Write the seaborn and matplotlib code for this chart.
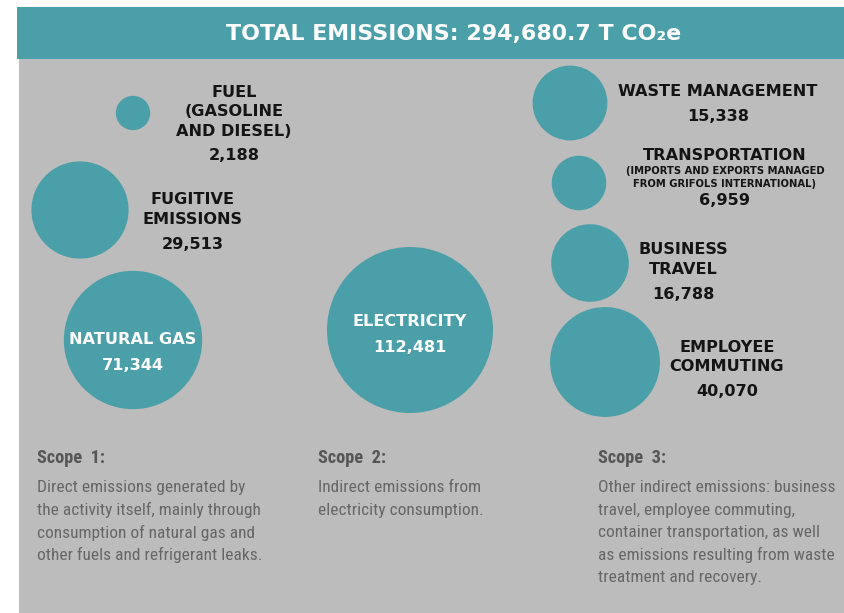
import matplotlib
matplotlib.use("Agg")
import matplotlib.pyplot as plt
from matplotlib import font_manager
from matplotlib.patches import Rectangle
import numpy as np
import pandas as pd
import seaborn as sns

# ---- data -------------------------------------------------------------
sources = ["FUEL\n(GASOLINE\nAND DIESEL)", "FUGITIVE\nEMISSIONS", "NATURAL GAS",
           "ELECTRICITY",
           "WASTE MANAGEMENT", "TRANSPORTATION", "BUSINESS\nTRAVEL",
           "EMPLOYEE\nCOMMUTING"]
emissions = [2188, 29513, 71344, 112481, 15338, 6959, 16788, 40070]
scopes = [1, 1, 1, 2, 3, 3, 3, 3]
total_emissions = 294680.7
transport_note = "(IMPORTS AND EXPORTS MANAGED\nFROM GRIFOLS INTERNATIONAL)"

scope_titles = ["Scope  1:", "Scope  2:", "Scope  3:"]
scope_texts = [
    "Direct emissions generated by\nthe activity itself, mainly through\n"
    "consumption of natural gas and\nother fuels and refrigerant leaks.",
    "Indirect emissions from\nelectricity consumption.",
    "Other indirect emissions: business\ntravel, employee commuting,\n"
    "container transportation, as well\nas emissions resulting from waste\n"
    "treatment and recovery.",
]

# ---- layout (canvas units = pixels, origin top-left) ------------------
W, H = 845, 613
bubble_x = [133, 80, 133, 410, 570, 579, 590, 605]
bubble_y = [113, 210, 340, 330, 103, 183, 263, 362]
# label anchor: (x, y of first line, line gap, gap to number, inside bubble?)
label_pos = [(234, 92.5, 19.5, 23.5, False), (193, 199.5, 20, 25, False),
             (133, 340, 20, 26, True), (410, 321, 20, 26, True),
             (718, 92, 20, 24.5, False), (725, 156, 20, 44.5, False),
             (683, 250, 19.5, 25, False), (727, 347, 19.5, 24.5, False)]
scope_x = [37, 318, 598]

TEAL = "#4A9FA9"
PANEL = "#BCBCBC"
INK = "#141414"
R_MAX_PX = 83          # radius of the largest bubble, pixels
SIZE_EXP = 0.4         # radius grows as value ** SIZE_EXP

sns.set_theme(style="white")

def pick(families):
    names = {f.name for f in font_manager.fontManager.ttflist}
    for fam in families:
        if fam in names:
            return fam
    return "DejaVu Sans"

BOLD_FONT = pick(["DejaVu Sans"])
NARROW_FONT = pick(["Liberation Sans Narrow", "DejaVu Sans Condensed",
                    "Roboto Condensed", "Liberation Sans"])

dpi = 100
fig = plt.figure(figsize=(W / dpi, H / dpi), dpi=dpi)
ax = fig.add_axes([0, 0, 1, 1])

# background panel and header band
ax.add_patch(Rectangle((19, 59), W - 19, H - 59, color=PANEL, lw=0, zorder=0))
ax.add_patch(Rectangle((17, 7), W - 17, 52, color=TEAL, lw=0, zorder=1))
ax.text(454, 34, f"TOTAL EMISSIONS: {total_emissions:,.1f} T CO\u2082e",
        color="white", fontsize=15.9, fontweight="bold", family=BOLD_FONT,
        ha="center", va="center", zorder=2)

# bubbles: radius derived from the emission value
values = np.array(emissions, dtype=float)
radius_px = R_MAX_PX * (values / values.max()) ** SIZE_EXP
px_to_pt = 72 / dpi
df = pd.DataFrame({"source": sources, "emissions": emissions, "scope": scopes,
                   "x": bubble_x, "y": bubble_y,
                   "area": (2 * radius_px * px_to_pt) ** 2})
sns.scatterplot(data=df, x="x", y="y", s=df["area"], color=TEAL,
                linewidth=0, alpha=1, ax=ax, legend=False, zorder=3)
ax.set_xlim(0, W)
ax.set_ylim(H, 0)
ax.axis("off")

for i, row in df.iterrows():
    lx, ly, gap, num_gap, inside = label_pos[i]
    colour = "white" if inside else INK
    lines = row["source"].split("\n")
    for j, line in enumerate(lines):
        ax.text(lx, ly + j * gap, line, color=colour, fontsize=11.6,
                fontweight="bold", family=BOLD_FONT, ha="center",
                va="center", zorder=4)
    last = ly + (len(lines) - 1) * gap
    if row["source"] == "TRANSPORTATION":
        ax.text(lx, ly + 21.5, transport_note, color=INK, fontsize=7.2,
                fontweight="bold", family=BOLD_FONT, ha="center",
                va="center", linespacing=1.3, zorder=4)
    ax.text(lx, last + num_gap, f"{row['emissions']:,}", color=colour,
            fontsize=11.6, fontweight="bold", family=BOLD_FONT,
            ha="center", va="center", zorder=4)

# scope descriptions
for sx, title, body in zip(scope_x, scope_titles, scope_texts):
    ax.text(sx, 458, title, color="#565656", fontsize=13.2, fontweight="bold",
            family=NARROW_FONT, ha="left", va="center")
    for j, line in enumerate(body.split("\n")):
        ax.text(sx, 487.5 + j * 22.6, line, color="#666666", fontsize=12.5,
                family=NARROW_FONT, ha="left", va="center")

fig.savefig("out.png", dpi=dpi, facecolor="white")
